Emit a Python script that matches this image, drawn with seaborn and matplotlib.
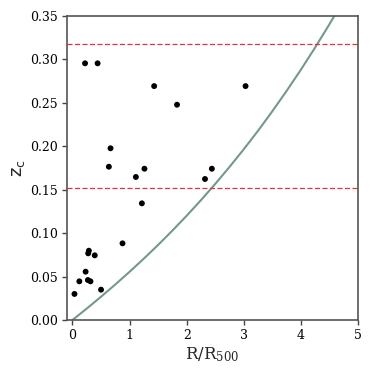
import matplotlib
matplotlib.use("Agg")
import matplotlib.pyplot as plt
import seaborn as sns
import pandas as pd

# cluster points
r_ratio = [0.035, 0.12, 0.23, 0.27, 0.315, 0.275, 0.287, 0.39, 0.50, 0.876,
           0.22, 0.44, 1.43, 1.83, 0.666, 0.637, 1.11, 1.26, 1.215, 2.32, 2.44, 3.03]
z_c = [0.030, 0.0445, 0.0556, 0.046, 0.0445, 0.0767, 0.0797, 0.0744, 0.0349, 0.0882,
       0.2952, 0.2952, 0.269, 0.2476, 0.1975, 0.1763, 0.1645, 0.174, 0.1342, 0.1622, 0.174, 0.269]

# model curve
curve_x = [0, 0.25, 0.5, 0.75, 1.0, 1.25, 1.5, 1.75, 2.0, 2.25, 2.5, 2.75,
           3.0, 3.25, 3.5, 3.75, 4.0, 4.25, 4.5, 4.75]
curve_z = [0, 0.0132, 0.0268, 0.0409, 0.0555, 0.0707, 0.0864, 0.1029, 0.120, 0.1379,
           0.1566, 0.1761, 0.1965, 0.2178, 0.2402, 0.2636, 0.288, 0.3136, 0.3403, 0.3683]

# horizontal reference lines
z_lines = [0.1522, 0.3178]

x_ticks = [0, 1, 2, 3, 4, 5]
y_ticks = [0.00, 0.05, 0.10, 0.15, 0.20, 0.25, 0.30, 0.35]

sns.set_theme(style="ticks")
plt.rcParams["font.family"] = ["DejaVu Serif"]
plt.rcParams["mathtext.fontset"] = "dejavuserif"

fig = plt.figure(figsize=(3.73, 3.73), dpi=100)
ax = fig.add_axes([0.179, 0.142, 0.781, 0.816])

pts = pd.DataFrame({"x": r_ratio, "z": z_c})
cur = pd.DataFrame({"x": curve_x, "z": curve_z})

sns.lineplot(data=cur, x="x", y="z", ax=ax, color="#74998b", linewidth=1.5, sort=True)
for zl in z_lines:
    ax.axhline(zl, color="#d9383a", linestyle=(0, (4, 2)), linewidth=0.9)
sns.scatterplot(data=pts, x="x", y="z", ax=ax, color="black", s=18, edgecolor="none", zorder=5)

ax.set_xlim(-0.1, 5)
ax.set_ylim(0, 0.35)
ax.set_xticks(x_ticks)
ax.set_yticks(y_ticks)
ax.set_xticklabels([str(t) for t in x_ticks])
ax.set_yticklabels([f"{t:.2f}" for t in y_ticks])
ax.tick_params(labelsize=9, length=3.5, width=1, color="#444444", labelcolor="black", pad=3)
for s in ax.spines.values():
    s.set_color("#555555")
    s.set_linewidth(1.2)
ax.set_xlabel(r"R/R$_{\mathrm{500}}$", fontsize=12, labelpad=2)
ax.set_ylabel(r"$\mathsf{z}_\mathsf{c}$", fontsize=13, labelpad=2)

fig.savefig("out.png", dpi=100)
